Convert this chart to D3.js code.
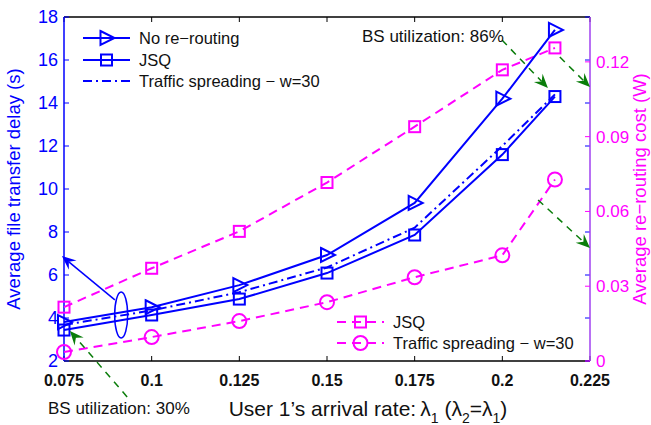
<!DOCTYPE html>
<html>
<head>
<meta charset="utf-8">
<script src="https://cdn.jsdelivr.net/npm/d3@7"></script>
<style>
  body { margin: 0; background: #fff; }
  svg { font-family: 'Liberation Sans', Arial, sans-serif; }
</style>
</head>
<body>
<div id="chart"></div>
<script>
// Data
const rates = [0.075, 0.1, 0.125, 0.15, 0.175, 0.2, 0.215];
const delayNoReroute = [3.81, 4.5, 5.53, 6.93, 9.35, 14.2, 17.4];
const delayJSQ = [3.44, 4.14, 4.88, 6.09, 7.86, 11.6, 14.3];
const delaySpreading = [3.68, 4.35, 5.2, 6.35, 8.2, 12.0, 14.4];
const costJSQ = [0.0216, 0.0372, 0.052, 0.0716, 0.094, 0.1168, 0.1256];
const costSpreading = [0.0036, 0.0096, 0.016, 0.0236, 0.0336, 0.0424, 0.0728];
const xTicks = [0.075, 0.1, 0.125, 0.15, 0.175, 0.2, 0.225];
const yLeftTicks = [2, 4, 6, 8, 10, 12, 14, 16, 18];
const yRightTicks = [0, 0.03, 0.06, 0.09, 0.12];

const W = 651, H = 425;
const blue = '#0000ff', magenta = '#ff00ff', green = '#0a7d0a', purple = '#a040f0';

const svg = d3.select('#chart').append('svg').attr('width', W).attr('height', H);

const x = d3.scaleLinear().domain([0.075, 0.225]).range([64, 590]);
const yL = d3.scaleLinear().domain([2, 18]).range([361, 17]);
const yR = d3.scaleLinear().domain([0, 0.138]).range([361, 17]);

// Frame
const x0 = x.range()[0], x1 = x.range()[1], yTop = yL.range()[1], yBot = yL.range()[0];
svg.append('line').attr('x1', x0).attr('x2', x1).attr('y1', yTop).attr('y2', yTop).attr('stroke', '#000').attr('stroke-width', 1.5);
svg.append('line').attr('x1', x0).attr('x2', x1).attr('y1', yBot).attr('y2', yBot).attr('stroke', '#000').attr('stroke-width', 1.5);

// x ticks (bottom and top)
xTicks.forEach(t => {
    svg.append('line').attr('x1', x(t)).attr('x2', x(t)).attr('y1', yBot).attr('y2', yBot - 5).attr('stroke', '#000');
    svg.append('line').attr('x1', x(t)).attr('x2', x(t)).attr('y1', yTop).attr('y2', yTop + 5).attr('stroke', '#000');
    svg.append('text').attr('x', x(t)).attr('y', yBot + 25).attr('text-anchor', 'middle')
        .attr('font-size', 16).attr('font-weight', 'bold').attr('fill', '#111').text(t);
});

// left axis
svg.append('line').attr('x1', x0).attr('x2', x0).attr('y1', yTop).attr('y2', yBot).attr('stroke', blue).attr('stroke-width', 1.5);
yLeftTicks.forEach(t => {
    svg.append('line').attr('x1', x0).attr('x2', x0 + 5).attr('y1', yL(t)).attr('y2', yL(t)).attr('stroke', blue);
    svg.append('line').attr('x1', x1).attr('x2', x1 - 5).attr('y1', yL(t)).attr('y2', yL(t)).attr('stroke', blue);
    svg.append('text').attr('x', x0 - 6).attr('y', yL(t) + 6).attr('text-anchor', 'end')
        .attr('font-size', 18).attr('fill', blue).text(t);
});

// right axis
svg.append('line').attr('x1', x1).attr('x2', x1).attr('y1', yTop).attr('y2', yBot).attr('stroke', purple).attr('stroke-width', 1.5);
yRightTicks.forEach(t => {
    svg.append('line').attr('x1', x1).attr('x2', x1 - 5).attr('y1', yR(t)).attr('y2', yR(t)).attr('stroke', magenta);
    svg.append('text').attr('x', x1 + 6).attr('y', yR(t) + 6).attr('text-anchor', 'start')
        .attr('font-size', 17).attr('fill', magenta).text(t);
});

// axis labels
svg.append('text').attr('transform', `translate(20,${(yTop + yBot) / 2}) rotate(-90)`).attr('text-anchor', 'middle')
    .attr('font-size', 18.5).attr('fill', blue).text('Average file transfer delay (s)');
svg.append('text').attr('transform', `translate(646,${(yTop + yBot) / 2}) rotate(-90)`).attr('text-anchor', 'middle')
    .attr('font-size', 18.5).attr('fill', magenta).text('Average re\u2212routing cost (W)');
const xl = svg.append('text').attr('x', 368).attr('y', 416).attr('text-anchor', 'middle').attr('font-size', 21).attr('fill', '#111');
xl.append('tspan').text('User 1\u2019s arrival rate:\u2009\u03bb');
xl.append('tspan').attr('font-size', 14).attr('dy', 7).text('1');
xl.append('tspan').attr('dy', -7).text('  (\u03bb');
xl.append('tspan').attr('font-size', 14).attr('dy', 7).text('2');
xl.append('tspan').attr('dy', -7).text('=\u03bb');
xl.append('tspan').attr('font-size', 14).attr('dy', 7).text('1');
xl.append('tspan').attr('dy', -7).text(')');

// Markers
function triangle(g, cx, cy, color) {
    g.append('path').attr('d', `M${cx - 6},${cy - 7} L${cx + 8},${cy} L${cx - 6},${cy + 7} Z`)
        .attr('fill', 'none').attr('stroke', color).attr('stroke-width', 2);
}
function square(g, cx, cy, color) {
    g.append('rect').attr('x', cx - 5.5).attr('y', cy - 5.5).attr('width', 11).attr('height', 11)
        .attr('fill', 'none').attr('stroke', color).attr('stroke-width', 2);
}
function circle(g, cx, cy, color) {
    g.append('circle').attr('cx', cx).attr('cy', cy).attr('r', 7)
        .attr('fill', 'none').attr('stroke', color).attr('stroke-width', 2);
}

const series = [
    { values: costJSQ, y: yR, color: magenta, dash: '9,6', marker: square },
    { values: costSpreading, y: yR, color: magenta, dash: '9,6', marker: circle },
    { values: delaySpreading, y: yL, color: blue, dash: '9,4,2,4', marker: null },
    { values: delayJSQ, y: yL, color: blue, dash: null, marker: square },
    { values: delayNoReroute, y: yL, color: blue, dash: null, marker: triangle }
];

series.forEach(s => {
    const line = d3.line().x((d, i) => x(rates[i])).y(d => s.y(d));
    const g = svg.append('g');
    g.append('path').datum(s.values).attr('d', line).attr('fill', 'none')
        .attr('stroke', s.color).attr('stroke-width', 2)
        .attr('stroke-dasharray', s.dash);
    if (s.marker) s.values.forEach((v, i) => s.marker(g, x(rates[i]), s.y(v), s.color));
});

// Legends
function legendItem(lx, ly, len, color, dash, marker, label) {
    const g = svg.append('g');
    g.append('line').attr('x1', lx).attr('x2', lx + len).attr('y1', ly).attr('y2', ly)
        .attr('stroke', color).attr('stroke-width', 2).attr('stroke-dasharray', dash);
    if (marker) marker(g, lx + len / 2, ly, color);
    g.append('text').attr('x', lx + len + 9).attr('y', ly + 6).attr('font-size', 16.5).attr('fill', '#111').text(label);
}
legendItem(83, 38, 47, blue, null, triangle, 'No re\u2212routing');
legendItem(83, 60, 47, blue, null, square, 'JSQ');
legendItem(83, 81, 47, blue, '9,4,2,4', null, 'Traffic spreading \u2212 w=30');
legendItem(337, 322, 47, magenta, '9,6', square, 'JSQ');
legendItem(337, 343, 47, magenta, '9,6', circle, 'Traffic spreading \u2212 w=30');

// Annotations
function arrow(xa, ya, xb, yb, color, dash, width) {
    const ang = Math.atan2(yb - ya, xb - xa);
    const L = 14, Wd = 6, back = 9;
    const ux = Math.cos(ang), uy = Math.sin(ang);
    const px = -uy, py = ux;
    svg.append('line').attr('x1', xa).attr('y1', ya).attr('x2', xb - ux * back).attr('y2', yb - uy * back)
        .attr('stroke', color).attr('stroke-width', width).attr('stroke-dasharray', dash);
    const p1 = [xb - ux * L + px * Wd, yb - uy * L + py * Wd];
    const p2 = [xb - ux * back, yb - uy * back];
    const p3 = [xb - ux * L - px * Wd, yb - uy * L - py * Wd];
    svg.append('path').attr('d', `M${xb},${yb} L${p1} L${p2} L${p3} Z`).attr('fill', color);
}

const annArrows = [
    { from: [0.1999, 16.93], to: [0.213, 14.7], color: green, dash: '7,6' },
    { from: [0.2164, 16.14], to: [0.225, 14.74], color: green, dash: '7,6' },
    { from: [0.2102, 9.49], to: [0.225, 7.26], color: green, dash: '7,6' },
    { from: [0.093, 0.33], to: [0.0767, 3.4], color: green, dash: '7,6' },
    { from: [0.0895, 4.84], to: [0.0744, 6.88], color: blue, dash: null }
];
annArrows.forEach(a => arrow(x(a.from[0]), yL(a.from[1]), x(a.to[0]), yL(a.to[1]), a.color, a.dash, 1.5));

svg.append('ellipse').attr('cx', x(0.0913)).attr('cy', yL(4.14)).attr('rx', 6.5).attr('ry', 23)
    .attr('fill', 'none').attr('stroke', blue).attr('stroke-width', 1.5);

svg.append('text').attr('x', 362).attr('y', 42).attr('font-size', 17).attr('fill', '#111').text('BS utilization: 86%');
svg.append('text').attr('x', 48).attr('y', 414).attr('font-size', 17).attr('fill', '#111').text('BS utilization: 30%');
</script>
</body>
</html>
